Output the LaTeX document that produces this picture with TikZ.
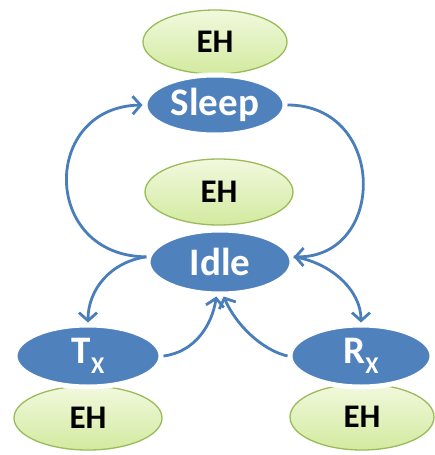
\documentclass[tikz,border=0pt]{standalone}
\usepackage{fontspec}
\setmainfont{Carlito}
\usetikzlibrary{shapes.geometric,arrows.meta,shadows}
\definecolor{stateblue}{HTML}{4F81BD}
\definecolor{linkblue}{HTML}{4A7EBB}
\definecolor{ehtop}{HTML}{F1F9DE}
\definecolor{ehbot}{HTML}{D3EA9F}
\definecolor{ehborder}{HTML}{9BBB59}
\tikzset{
  ehnode/.style={ellipse, draw=ehborder, line width=1.3pt, top color=ehtop, bottom color=ehbot,
    inner sep=0pt, font=\fontsize{33}{35}\selectfont\bfseries, text=black},
  statenode/.style={ellipse, draw=white, line width=5pt, fill=stateblue, inner sep=0pt,
    font=\fontsize{39}{42}\selectfont\bfseries, text=white,
    drop shadow={shadow xshift=0.5pt, shadow yshift=-2pt, opacity=0.35, fill=black!60}},
  link/.style={draw=linkblue, line width=2.8pt, -{Straight Barb[length=8pt,width=18pt,line width=2.8pt]}}
}
\newcommand{\subX}{\raisebox{-10pt}{\fontsize{24}{25}\selectfont X}}
\begin{document}
\begin{tikzpicture}[x=1pt,y=-1pt]
\useasboundingbox (0,0) rectangle (434,455);
\fill[white] (0,0) rectangle (434,455);
% EH ellipses
\node[ehnode, minimum width=144pt, minimum height=64pt] (eh1) at (215,42) {EH};
\node[ehnode, minimum width=148pt, minimum height=66pt] (eh2) at (219,192) {EH};
\node[ehnode, minimum width=148pt, minimum height=64pt] (eh3) at (88,418) {EH};
\node[ehnode, minimum width=144pt, minimum height=66pt] (eh4) at (362,417) {EH};
% states
\node[statenode, minimum width=140pt, minimum height=60pt] (sleep) at (215,105) {Sleep};
\node[statenode, minimum width=144pt, minimum height=64pt] (idle) at (220,262) {Idle};
\node[statenode, minimum width=146pt, minimum height=62pt] (tx) at (88,356) {T\subX};
\node[statenode, minimum width=142pt, minimum height=62pt] (rx) at (361,356) {R\subX};
% connectors
\draw[link] (idle.176) .. controls (41,256) and (41,107) .. (sleep.west);
\draw[link] (sleep.east) .. controls (387,105) and (387,258) .. (idle.4);
\draw[link] (idle.176) .. controls (110,262) and (88,290) .. (tx.north);
\draw[link] (tx.east) .. controls (195,352) and (212,325) .. (idle.-96);
\draw[link] (rx.west) .. controls (262,350) and (236,325) .. (idle.-84);
\draw[link] (idle.4) .. controls (330,262) and (361,290) .. (rx.north);
\end{tikzpicture}
\end{document}
